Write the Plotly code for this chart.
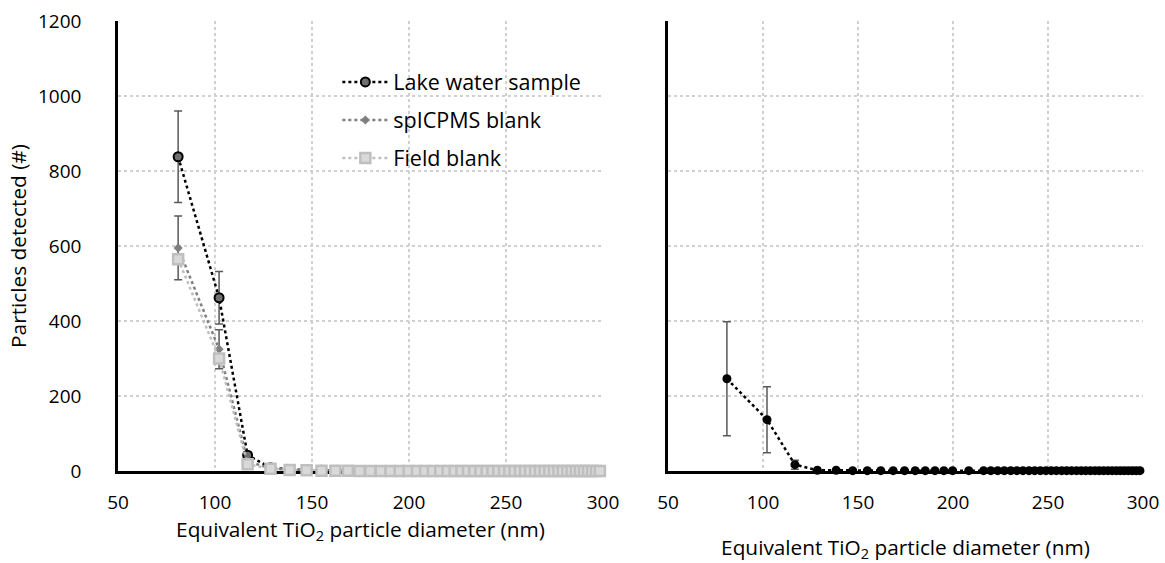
import plotly.graph_objects as go

# Equivalent TiO2 particle diameter (nm) of each size bin
diameter = [81.0, 102.1, 116.8, 128.6, 138.5, 147.2, 154.9, 162.0, 168.5, 174.5,
            180.1, 185.4, 190.5, 195.2, 199.8, 204.1, 208.3, 212.3, 216.1, 219.9,
            223.5, 227.0, 230.4, 233.6, 236.8, 240.0, 243.0, 246.0, 248.9, 251.7,
            254.4, 257.2, 259.8, 262.4, 265.0, 267.5, 269.9, 272.3, 274.7, 277.0,
            279.3, 281.6, 283.8, 286.0, 288.1, 290.2, 292.3, 294.4, 296.4, 298.4]

# Left panel: particles detected
lake = [838, 462, 42, 9, 4, 2, 2, 1, 1, 1,
        1, 1, 0, 0, 0, 0, 0, 0, 0, 0,
        0, 0, 0, 0, 0, 0, 0, 0, 0, 0,
        0, 0, 0, 0, 0, 0, 0, 0, 0, 0,
        0, 0, 0, 0, 0, 0, 0, 0, 0, 0]
lake_err = [122, 70, 8, 3, 2, 1, 1, 1, 1, 1,
            1, 1, 0, 0, 0, 0, 0, 0, 0, 0,
            0, 0, 0, 0, 0, 0, 0, 0, 0, 0,
            0, 0, 0, 0, 0, 0, 0, 0, 0, 0,
            0, 0, 0, 0, 0, 0, 0, 0, 0, 0]
sp_blank = [595, 325, 26, 7, 3, 2, 1, 1, 1, 0,
            0, 0, 0, 0, 0, 0, 0, 0, 0, 0,
            0, 0, 0, 0, 0, 0, 0, 0, 0, 0,
            0, 0, 0, 0, 0, 0, 0, 0, 0, 0,
            0, 0, 0, 0, 0, 0, 0, 0, 0, 0]
sp_err = [85, 52, 6, 2, 1, 1, 1, 1, 1, 0,
          0, 0, 0, 0, 0, 0, 0, 0, 0, 0,
          0, 0, 0, 0, 0, 0, 0, 0, 0, 0,
          0, 0, 0, 0, 0, 0, 0, 0, 0, 0,
          0, 0, 0, 0, 0, 0, 0, 0, 0, 0]
field_blank = [565, 300, 18, 6, 3, 2, 1, 1, 1, 0,
               0, 0, 0, 0, 0, 0, 0, 0, 0, 0,
               0, 0, 0, 0, 0, 0, 0, 0, 0, 0,
               0, 0, 0, 0, 0, 0, 0, 0, 0, 0,
               0, 0, 0, 0, 0, 0, 0, 0, 0, 0]

# Right panel: blank-corrected lake water sample
corrected = [246, 137, 17, 2, 2, 1, 1, 1, 1, 1,
             1, 1, 1, 1, 1, None, 1, None, 1, 1,
             1, 1, 1, 1, 1, 1, 1, 1, 1, 1,
             1, 1, 1, 1, 1, 1, 1, 1, 1, 1,
             1, 1, 1, 1, 1, 1, 1, 1, 1, 1]
corrected_err = [152, 88, 12, 1, 1, 1, 1, 1, 1, 1,
                 1, 1, 1, 1, 1, 0, 1, 0, 1, 1,
                 1, 1, 1, 1, 1, 1, 1, 1, 1, 1,
                 1, 1, 1, 1, 1, 1, 1, 1, 1, 1,
                 1, 1, 1, 1, 1, 1, 1, 1, 1, 1]

x_ticks = [50, 100, 150, 200, 250, 300]
y_ticks = [0, 200, 400, 600, 800, 1000, 1200]

FONT = "Open Sans"
TXT = "#000000"
ERR_COLOR = "#595959"

fig = go.Figure()

fig.add_trace(go.Scatter(
    x=diameter, y=lake, name="Lake water sample", mode="lines+markers",
    line=dict(color="#000000", width=2.5, dash="dot"),
    marker=dict(symbol="circle", size=9, color="#6f6f6f",
                line=dict(color="#000000", width=2)),
    error_y=dict(type="data", array=lake_err, color=ERR_COLOR, thickness=1.5, width=4),
    cliponaxis=False, legendgroup="a", xaxis="x", yaxis="y"))

fig.add_trace(go.Scatter(
    x=diameter, y=sp_blank, name="spICPMS blank", mode="lines+markers",
    line=dict(color="#7f7f7f", width=2.5, dash="dot"),
    marker=dict(symbol="diamond", size=7, color="#7f7f7f"),
    error_y=dict(type="data", array=sp_err, color=ERR_COLOR, thickness=1.5, width=4),
    cliponaxis=False, legendgroup="b", xaxis="x", yaxis="y"))

fig.add_trace(go.Scatter(
    x=diameter, y=field_blank, name="Field blank", mode="lines+markers",
    line=dict(color="#bfbfbf", width=2.5, dash="dot"),
    marker=dict(symbol="square", size=10, color="#d9d9d9",
                line=dict(color="#bfbfbf", width=2.5)),
    cliponaxis=False, legendgroup="c", xaxis="x", yaxis="y"))

fig.add_trace(go.Scatter(
    x=diameter, y=corrected, name="Blank-corrected sample", mode="lines+markers",
    line=dict(color="#000000", width=2.5, dash="dot"),
    marker=dict(symbol="circle", size=9, color="#000000"),
    error_y=dict(type="data", array=corrected_err, color=ERR_COLOR, thickness=1.5, width=4),
    connectgaps=True, cliponaxis=False, showlegend=False, xaxis="x2", yaxis="y2"))

axis_common = dict(
    range=[50, 300], tickvals=x_ticks, showgrid=True, gridcolor="#d0d0d0",
    griddash="dot", gridwidth=1.5, zeroline=False, showline=True, linecolor="#000000",
    linewidth=2.5, ticks="outside", ticklen=12, tickcolor="rgba(0,0,0,0)",
    tickfont=dict(family=FONT, size=19, color=TXT), layer="below traces",
    automargin=False)

yaxis_common = dict(
    range=[0, 1200], tickvals=y_ticks, showgrid=True, gridcolor="#d0d0d0",
    griddash="dot", gridwidth=1.5, zeroline=False, showline=True, linecolor="#000000",
    linewidth=2.5, ticks="outside", ticklen=30, tickcolor="rgba(0,0,0,0)",
    tickfont=dict(family=FONT, size=19, color=TXT), layer="below traces",
    automargin=False)

title_font = dict(family=FONT, size=20.8, color=TXT)

fig.update_layout(
    width=1165, height=563,
    margin=dict(l=118, r=22, t=21, b=92, autoexpand=False),
    paper_bgcolor="white", plot_bgcolor="white",
    font=dict(family=FONT, size=19, color=TXT),
    xaxis=dict(axis_common, domain=[0, 0.4732], anchor="y",
               title=dict(text="Equivalent TiO<sub>2</sub> particle diameter (nm)",
                          font=title_font, standoff=9)),
    yaxis=dict(yaxis_common, domain=[0, 1], anchor="x",
               title=dict(text="Particles detected (#)", font=title_font, standoff=6)),
    xaxis2=dict(axis_common, domain=[0.5366, 1], anchor="y2",
                title=dict(text="Equivalent TiO<sub>2</sub> particle diameter (nm)",
                           font=title_font, standoff=32)),
    yaxis2=dict(yaxis_common, domain=[0, 1], anchor="x2", showticklabels=False),
    legend=dict(x=0.214, y=0.91, xanchor="left", yanchor="top",
                bgcolor="rgba(255,255,255,0)", tracegroupgap=7,
                font=dict(family=FONT, size=21.5, color=TXT), itemwidth=46),
    showlegend=True,
)

fig.write_html("out.html")
